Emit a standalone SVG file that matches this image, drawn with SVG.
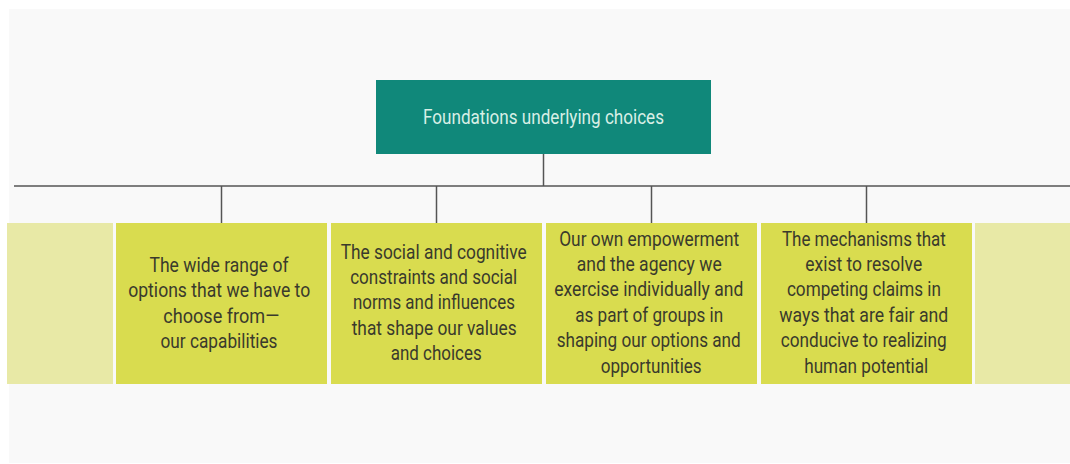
<svg xmlns="http://www.w3.org/2000/svg" width="1070" height="464" viewBox="0 0 1070 464">
<style>
.bg{fill:#f9f9f9}
.root{fill:#10887a}
.box{fill:#d9dc4f}
.pale{fill:#e8e9a6}
.conn{stroke:#555;stroke-width:1.5;fill:none}
.t{font-family:Roboto,"Liberation Sans",sans-serif;font-size:21px;fill:#3a3a2c;text-anchor:middle}
.tt{font-family:Roboto,"Liberation Sans",sans-serif;font-size:21px;fill:#d8efe6;text-anchor:middle}
</style>
<rect width="1070" height="464" fill="#ffffff"/>
<rect class="bg" x="9" y="9" width="1061" height="454"/>
<g id="connectors">
<line class="conn" x1="543.5" y1="154" x2="543.5" y2="186"/>
<line class="conn" x1="14" y1="186" x2="1070" y2="186"/>
<line class="conn" x1="221.5" y1="186" x2="221.5" y2="223"/>
<line class="conn" x1="436.5" y1="186" x2="436.5" y2="223"/>
<line class="conn" x1="651.5" y1="186" x2="651.5" y2="223"/>
<line class="conn" x1="866.5" y1="186" x2="866.5" y2="223"/>
</g>
<g id="root">
<rect class="root" x="376" y="80" width="335" height="74"/>
<text class="tt" x="543.5" y="124" textLength="241" lengthAdjust="spacingAndGlyphs">Foundations underlying choices</text>
</g>
<g id="pale-left"><rect class="pale" x="7" y="223" width="106" height="161"/></g>
<g id="pale-right"><rect class="pale" x="975" y="223" width="95" height="161"/></g>
<g id="node1">
<rect class="box" x="116" y="223" width="211" height="161"/>
<text class="t" x="219" y="272" textLength="139" lengthAdjust="spacingAndGlyphs">The wide range of</text>
<text class="t" x="219.2" y="297.3" textLength="182" lengthAdjust="spacingAndGlyphs">options that we have to</text>
<text class="t" x="221.3" y="322.6" textLength="116" lengthAdjust="spacingAndGlyphs">choose from—</text>
<text class="t" x="219" y="348" textLength="117" lengthAdjust="spacingAndGlyphs">our capabilities</text>
</g>
<g id="node2">
<rect class="box" x="331" y="223" width="211" height="161"/>
<text class="t" x="433.7" y="258.5" textLength="186" lengthAdjust="spacingAndGlyphs">The social and cognitive</text>
<text class="t" x="433.7" y="284" textLength="167" lengthAdjust="spacingAndGlyphs">constraints and social</text>
<text class="t" x="433.9" y="309.3" textLength="162" lengthAdjust="spacingAndGlyphs">norms and influences</text>
<text class="t" x="434.2" y="334.8" textLength="165" lengthAdjust="spacingAndGlyphs">that shape our values</text>
<text class="t" x="436.2" y="360.2" textLength="91" lengthAdjust="spacingAndGlyphs">and choices</text>
</g>
<g id="node3">
<rect class="box" x="546" y="223" width="211" height="161"/>
<text class="t" x="649.2" y="246" textLength="180" lengthAdjust="spacingAndGlyphs">Our own empowerment</text>
<text class="t" x="649.2" y="271" textLength="145" lengthAdjust="spacingAndGlyphs">and the agency we</text>
<text class="t" x="648.8" y="296.3" textLength="189" lengthAdjust="spacingAndGlyphs">exercise individually and</text>
<text class="t" x="649.2" y="322" textLength="148" lengthAdjust="spacingAndGlyphs">as part of groups in</text>
<text class="t" x="648.7" y="347.3" textLength="184" lengthAdjust="spacingAndGlyphs">shaping our options and</text>
<text class="t" x="651.2" y="372.7" textLength="101" lengthAdjust="spacingAndGlyphs">opportunities</text>
</g>
<g id="node4">
<rect class="box" x="761" y="223" width="211" height="161"/>
<text class="t" x="863.9" y="246" textLength="164" lengthAdjust="spacingAndGlyphs">The mechanisms that</text>
<text class="t" x="863.7" y="271" textLength="117" lengthAdjust="spacingAndGlyphs">exist to resolve</text>
<text class="t" x="863.9" y="296.3" textLength="154" lengthAdjust="spacingAndGlyphs">competing claims in</text>
<text class="t" x="863.8" y="322" textLength="169" lengthAdjust="spacingAndGlyphs">ways that are fair and</text>
<text class="t" x="863.7" y="347.3" textLength="166" lengthAdjust="spacingAndGlyphs">conducive to realizing</text>
<text class="t" x="866.2" y="372.7" textLength="124" lengthAdjust="spacingAndGlyphs">human potential</text>
</g>
</svg>
